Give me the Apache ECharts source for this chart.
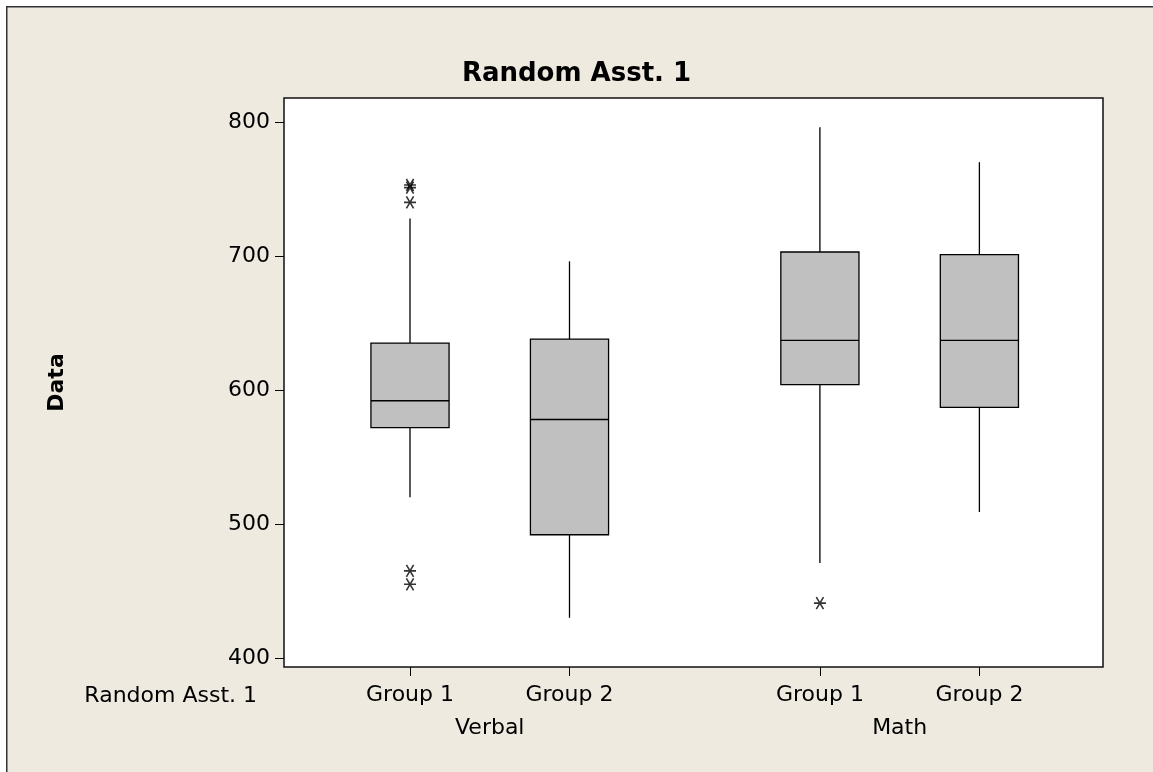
<!DOCTYPE html>
<html>
<head>
<meta charset="utf-8">
<script src="https://cdn.jsdelivr.net/npm/echarts@6/dist/echarts.min.js"></script>
<style>
html,body{margin:0;padding:0;background:#fff;}
#chart{width:1153px;height:772px;}
</style>
</head>
<body>
<div id="chart"></div>
<script>
// ---- data ----
const title = 'Random Asst. 1';
const rowLabel = 'Random Asst. 1';
const groupNames = ['Verbal', 'Math'];
const categories = ['Group 1', 'Group 2'];
const yAxisName = 'Data';
const yTicks = [400, 500, 600, 700, 800];
// [lower whisker, Q1, median, Q3, upper whisker]
const verbalGroup1 = [520, 572, 592, 635, 728];
const verbalGroup2 = [430, 492, 578, 638, 696];
const mathGroup1 = [471, 604, 637, 703, 796];
const mathGroup2 = [509, 587, 637, 701, 770];
const verbalGroup1Outliers = [753, 751, 740, 465, 455];
const verbalGroup2Outliers = [];
const mathGroup1Outliers = [441];
const mathGroup2Outliers = [];

// ---- build ----
const GROUP_STRIDE = 2.57;
const stats = [[verbalGroup1, verbalGroup2], [mathGroup1, mathGroup2]];
const outs = [[verbalGroup1Outliers, verbalGroup2Outliers], [mathGroup1Outliers, mathGroup2Outliers]];
const pos = (g, c) => g * GROUP_STRIDE + c;

const boxData = [];
const outlierData = [];
const tickPos = [];
const tickNames = [];
stats.forEach((grp, g) => {
  grp.forEach((s, c) => {
    const p = pos(g, c);
    boxData.push([p].concat(s));
    tickPos.push(p);
    tickNames.push(categories[c]);
    outs[g][c].forEach(v => outlierData.push([p, v]));
  });
});
const groupCenters = groupNames.map((n, g) => (pos(g, 0) + pos(g, categories.length - 1)) / 2);

const FONT = '"DejaVu Sans", Verdana, sans-serif';
const X_MIN = -0.79, X_MAX = 4.345;
const Y_MIN = 393.3, Y_MAX = 817.9;

function nameAt(list, names, v) {
  for (let i = 0; i < list.length; i++) if (Math.abs(list[i] - v) < 1e-6) return names[i];
  return '';
}

const chart = echarts.init(document.getElementById('chart'), null, {renderer: 'canvas'});
chart.setOption({
  backgroundColor: '#fff',
  animation: false,
  graphic: [
    {type: 'rect', left: 6, top: 6, z: -10, shape: {width: 1160, height: 780},
     style: {fill: '#EEEAE0', stroke: '#333', lineWidth: 1.5}},
    {type: 'text', right: 1153 - 257, top: 685, z: 10,
     style: {text: rowLabel, font: '22px ' + FONT, fill: '#000', textAlign: 'right'}}
  ],
  title: {
    text: title, left: 'center', top: 56,
    textStyle: {fontFamily: FONT, fontSize: 26, fontWeight: 'bold', color: '#000'}
  },
  grid: {
    left: 284, top: 98, width: 819, height: 569,
    show: true, backgroundColor: '#fff', borderColor: '#111', borderWidth: 1.5
  },
  xAxis: [
    {
      type: 'value', min: X_MIN, max: X_MAX, position: 'bottom',
      axisLine: {show: false, onZero: false},
      splitLine: {show: false},
      axisTick: {show: true, length: 9, customValues: tickPos, lineStyle: {color: '#000'}},
      axisLabel: {show: true, customValues: tickPos, margin: 17,
        fontFamily: FONT, fontSize: 22, color: '#000',
        formatter: v => nameAt(tickPos, tickNames, v)}
    },
    {
      type: 'value', min: X_MIN, max: X_MAX, position: 'bottom', offset: 33,
      axisLine: {show: false, onZero: false}, splitLine: {show: false}, axisTick: {show: false},
      axisLabel: {show: true, customValues: groupCenters, margin: 17,
        fontFamily: FONT, fontSize: 22, color: '#000',
        formatter: v => nameAt(groupCenters, groupNames, v)}
    }
  ],
  yAxis: {
    type: 'value', min: Y_MIN, max: Y_MAX, position: 'left',
    name: yAxisName, nameLocation: 'middle', nameGap: 216, nameRotate: 90,
    nameTextStyle: {fontFamily: FONT, fontSize: 22, fontWeight: 'bold', color: '#000'},
    axisLine: {show: false, onZero: false},
    splitLine: {show: false},
    axisTick: {show: true, length: 9, customValues: yTicks, lineStyle: {color: '#000'}},
    axisLabel: {show: true, customValues: yTicks, margin: 14,
      fontFamily: FONT, fontSize: 22, color: '#000'}
  },
  series: [
    {
      type: 'custom',
      xAxisIndex: 0,
      data: boxData,
      encode: {x: 0, y: [1, 2, 3, 4, 5]},
      renderItem: function (params, api) {
        const x = api.value(0);
        const lo = api.coord([x, api.value(1)]);
        const q1 = api.coord([x, api.value(2)]);
        const md = api.coord([x, api.value(3)]);
        const q3 = api.coord([x, api.value(4)]);
        const hi = api.coord([x, api.value(5)]);
        const half = api.size([1, 0])[0] * 0.245;
        const ls = {stroke: '#000', lineWidth: 1.3};
        return {
          type: 'group',
          children: [
            {type: 'line', shape: {x1: hi[0], y1: hi[1], x2: q3[0], y2: q3[1]}, style: ls},
            {type: 'line', shape: {x1: q1[0], y1: q1[1], x2: lo[0], y2: lo[1]}, style: ls},
            {type: 'rect', shape: {x: q3[0] - half, y: q3[1], width: half * 2, height: q1[1] - q3[1]},
             style: {fill: '#C0C0C0', stroke: '#000', lineWidth: 1.3}},
            {type: 'line', shape: {x1: md[0] - half, y1: md[1], x2: md[0] + half, y2: md[1]}, style: ls}
          ]
        };
      }
    },
    {
      type: 'scatter',
      xAxisIndex: 0,
      data: outlierData,
      symbol: 'path://M0,5L10,5M2,0.5L8,9.5M2,9.5L8,0.5',
      symbolSize: 12,
      itemStyle: {color: 'rgba(0,0,0,0)', borderColor: '#000', borderWidth: 1.6}
    }
  ]
});
</script>
</body>
</html>
